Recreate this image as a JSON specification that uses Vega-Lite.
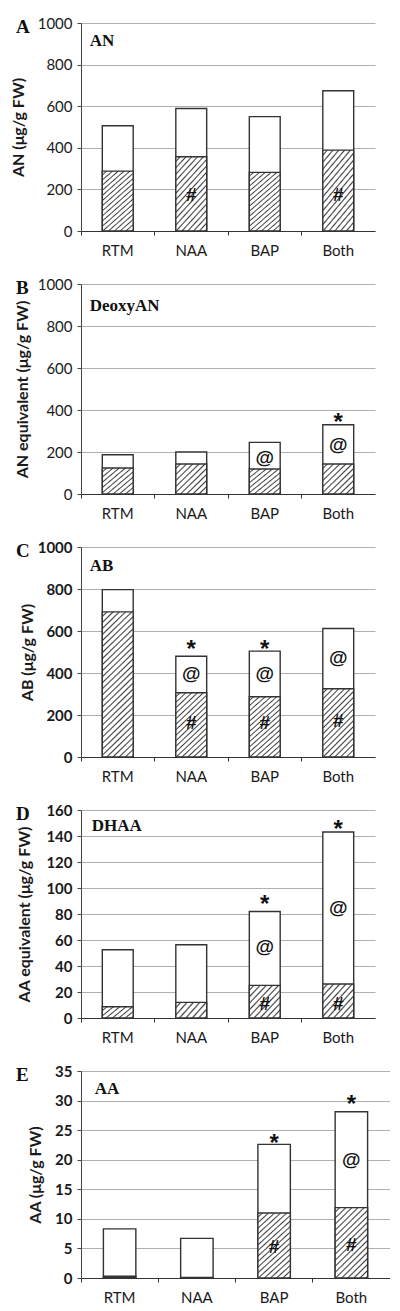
{
  "$schema": "https://vega.github.io/schema/vega-lite/v6.json",
  "padding": {"left": 10, "top": 16, "right": 0, "bottom": 0},
  "autosize": {"type": "pad"},
  "spacing": 53,
  "bounds": "flush",
  "config": {
    "view": {"stroke": null},
    "font": "Lato",
    "axisX": {"bandPosition": 0, "domainColor": "#333333", "tickColor": "#333333", "tickSize": 4, "labelFontSize": 15, "labelColor": "#1a1a1a", "labelFont": "Lato", "labelPadding": 8, "labelAngle": 0, "grid": false, "title": null},
    "axisY": {"grid": true, "gridColor": "#b0b0b0", "gridWidth": 1, "domainColor": "#444444", "tickColor": "#444444", "tickSize": 4, "labelFontSize": 15, "labelColor": "#1a1a1a", "labelFont": "Lato", "labelPadding": 5, "labelOverlap": false, "format": "d", "titleFont": "Lato", "titleFontSize": 16, "titleFontWeight": "bold", "titleColor": "#1a1a1a"},
    "title": {"font": "Liberation Serif", "fontSize": 19, "fontWeight": "bold", "anchor": "start", "frame": "group", "dx": -65, "baseline": "alphabetic", "offset": 0, "dy": 25, "color": "#111111"}
  },
  "datasets": {
    "bars": [
      {"panel": "A", "cat": "RTM", "lower": 288, "total": 506},
      {"panel": "A", "cat": "NAA", "lower": 357, "total": 589},
      {"panel": "A", "cat": "BAP", "lower": 282, "total": 550},
      {"panel": "A", "cat": "Both", "lower": 389, "total": 674},
      {"panel": "B", "cat": "RTM", "lower": 124, "total": 187},
      {"panel": "B", "cat": "NAA", "lower": 143, "total": 200},
      {"panel": "B", "cat": "BAP", "lower": 119, "total": 246},
      {"panel": "B", "cat": "Both", "lower": 143, "total": 330},
      {"panel": "C", "cat": "RTM", "lower": 691, "total": 797},
      {"panel": "C", "cat": "NAA", "lower": 306, "total": 480},
      {"panel": "C", "cat": "BAP", "lower": 287, "total": 504},
      {"panel": "C", "cat": "Both", "lower": 325, "total": 612},
      {"panel": "D", "cat": "RTM", "lower": 8.7, "total": 52.5},
      {"panel": "D", "cat": "NAA", "lower": 12, "total": 56.3},
      {"panel": "D", "cat": "BAP", "lower": 25.1, "total": 81.9},
      {"panel": "D", "cat": "Both", "lower": 26.1, "total": 143.1},
      {"panel": "E", "cat": "RTM", "lower": 0.3, "total": 8.3},
      {"panel": "E", "cat": "NAA", "lower": 0.1, "total": 6.7},
      {"panel": "E", "cat": "BAP", "lower": 11.0, "total": 22.6},
      {"panel": "E", "cat": "Both", "lower": 11.9, "total": 28.1}
    ],
    "syms": [
      {"panel": "A", "cat": "NAA", "sym": "#", "y": 173},
      {"panel": "A", "cat": "Both", "sym": "#", "y": 173},
      {"panel": "B", "cat": "BAP", "sym": "@", "y": 171},
      {"panel": "B", "cat": "Both", "sym": "@", "y": 235},
      {"panel": "C", "cat": "NAA", "sym": "@", "y": 393},
      {"panel": "C", "cat": "BAP", "sym": "@", "y": 393},
      {"panel": "C", "cat": "Both", "sym": "@", "y": 472},
      {"panel": "C", "cat": "NAA", "sym": "#", "y": 163},
      {"panel": "C", "cat": "BAP", "sym": "#", "y": 163},
      {"panel": "C", "cat": "Both", "sym": "#", "y": 171},
      {"panel": "D", "cat": "BAP", "sym": "@", "y": 54.8},
      {"panel": "D", "cat": "BAP", "sym": "#", "y": 10.8},
      {"panel": "D", "cat": "Both", "sym": "@", "y": 85},
      {"panel": "D", "cat": "Both", "sym": "#", "y": 10.8},
      {"panel": "E", "cat": "BAP", "sym": "#", "y": 5.2},
      {"panel": "E", "cat": "Both", "sym": "@", "y": 19.9},
      {"panel": "E", "cat": "Both", "sym": "#", "y": 5.6}
    ],
    "stars": [
      {"panel": "B", "cat": "Both", "sym": "*", "y": 369},
      {"panel": "C", "cat": "NAA", "sym": "*", "y": 536},
      {"panel": "C", "cat": "BAP", "sym": "*", "y": 536},
      {"panel": "D", "cat": "BAP", "sym": "*", "y": 91.4},
      {"panel": "D", "cat": "Both", "sym": "*", "y": 149.5},
      {"panel": "E", "cat": "BAP", "sym": "*", "y": 23.7},
      {"panel": "E", "cat": "Both", "sym": "*", "y": 30.2}
    ],
    "labels": [
      {"panel": "A", "cat": "RTM", "label": "AN", "y": 889},
      {"panel": "B", "cat": "RTM", "label": "DeoxyAN", "y": 871},
      {"panel": "C", "cat": "RTM", "label": "AB", "y": 886},
      {"panel": "D", "cat": "RTM", "label": "DHAA", "y": 143.8},
      {"panel": "E", "cat": "RTM", "label": "AA", "y": 31.1}
    ]
  },
  "vconcat": [
    {
      "width": 294, "height": 208,
      "title": {"text": "A"},
      "layer": [
        {"data": {"name": "bars"}, "transform": [{"filter": "datum.panel==='A'"}],
         "mark": {"type": "bar", "fill": "#ffffff", "stroke": "#333333", "strokeWidth": 1.4, "width": {"band": 0.42}},
         "encoding": {
           "x": {"field": "cat", "type": "nominal", "sort": ["RTM", "NAA", "BAP", "Both"], "scale": {"paddingInner": 0, "paddingOuter": 0}},
           "y": {"field": "total", "type": "quantitative", "scale": {"domain": [0, 1000], "nice": false}, "axis": {"title": "AN (μg/g FW)", "values": [0, 200, 400, 600, 800, 1000], "tickCount": 6, "labelOverlap": false, "titlePadding": 11}}}},
        {"data": {"name": "bars"}, "transform": [{"filter": "datum.panel==='A'"}],
         "mark": {"type": "bar", "stroke": "#333333", "strokeWidth": 1.4, "width": {"band": 0.42},
           "fill": {"gradient": "linear", "x1": 0, "y1": 0, "x2": 0.548, "y2": 1.205, "stops": [
            {"offset": 0, "color": "#ffffff"},
            {"offset": 0.0294, "color": "#ffffff"}, {"offset": 0.0441, "color": "#404040"}, {"offset": 0.0588, "color": "#ffffff"},
            {"offset": 0.0882, "color": "#ffffff"}, {"offset": 0.1029, "color": "#404040"}, {"offset": 0.1176, "color": "#ffffff"},
            {"offset": 0.1471, "color": "#ffffff"}, {"offset": 0.1618, "color": "#404040"}, {"offset": 0.1765, "color": "#ffffff"},
            {"offset": 0.2059, "color": "#ffffff"}, {"offset": 0.2206, "color": "#404040"}, {"offset": 0.2353, "color": "#ffffff"},
            {"offset": 0.2647, "color": "#ffffff"}, {"offset": 0.2794, "color": "#404040"}, {"offset": 0.2941, "color": "#ffffff"},
            {"offset": 0.3235, "color": "#ffffff"}, {"offset": 0.3382, "color": "#404040"}, {"offset": 0.3529, "color": "#ffffff"},
            {"offset": 0.3824, "color": "#ffffff"}, {"offset": 0.3971, "color": "#404040"}, {"offset": 0.4118, "color": "#ffffff"},
            {"offset": 0.4412, "color": "#ffffff"}, {"offset": 0.4559, "color": "#404040"}, {"offset": 0.4706, "color": "#ffffff"},
            {"offset": 0.5, "color": "#ffffff"}, {"offset": 0.5147, "color": "#404040"}, {"offset": 0.5294, "color": "#ffffff"},
            {"offset": 0.5588, "color": "#ffffff"}, {"offset": 0.5735, "color": "#404040"}, {"offset": 0.5882, "color": "#ffffff"},
            {"offset": 0.6176, "color": "#ffffff"}, {"offset": 0.6324, "color": "#404040"}, {"offset": 0.6471, "color": "#ffffff"},
            {"offset": 0.6765, "color": "#ffffff"}, {"offset": 0.6912, "color": "#404040"}, {"offset": 0.7059, "color": "#ffffff"},
            {"offset": 0.7353, "color": "#ffffff"}, {"offset": 0.75, "color": "#404040"}, {"offset": 0.7647, "color": "#ffffff"},
            {"offset": 0.7941, "color": "#ffffff"}, {"offset": 0.8088, "color": "#404040"}, {"offset": 0.8235, "color": "#ffffff"},
            {"offset": 0.8529, "color": "#ffffff"}, {"offset": 0.8676, "color": "#404040"}, {"offset": 0.8824, "color": "#ffffff"},
            {"offset": 0.9118, "color": "#ffffff"}, {"offset": 0.9265, "color": "#404040"}, {"offset": 0.9412, "color": "#ffffff"},
            {"offset": 0.9706, "color": "#ffffff"}, {"offset": 0.9853, "color": "#404040"}, {"offset": 1, "color": "#ffffff"}]}},
         "encoding": {"x": {"field": "cat", "type": "nominal", "sort": ["RTM", "NAA", "BAP", "Both"]}, "y": {"field": "lower", "type": "quantitative", "title": "AN (μg/g FW)"}}},
        {"data": {"name": "syms"}, "transform": [{"filter": "datum.panel==='A'"}],
         "mark": {"type": "text", "font": "Liberation Sans", "fontWeight": "bold", "fontSize": 19, "baseline": "middle", "color": "#111111"},
         "encoding": {"x": {"field": "cat", "type": "nominal", "sort": ["RTM", "NAA", "BAP", "Both"]}, "y": {"field": "y", "type": "quantitative", "title": "AN (μg/g FW)"}, "text": {"field": "sym"}}},
        {"data": {"name": "labels"}, "transform": [{"filter": "datum.panel==='A'"}],
         "mark": {"type": "text", "font": "Liberation Serif", "fontWeight": "bold", "fontSize": 17, "align": "left", "baseline": "alphabetic", "dx": -28, "color": "#111111"},
         "encoding": {"x": {"field": "cat", "type": "nominal", "sort": ["RTM", "NAA", "BAP", "Both"]}, "y": {"field": "y", "type": "quantitative", "title": "AN (μg/g FW)"}, "text": {"field": "label"}}}
      ]
    },
    {
      "width": 294, "height": 210,
      "title": {"text": "B"},
      "layer": [
        {"data": {"name": "bars"}, "transform": [{"filter": "datum.panel==='B'"}],
         "mark": {"type": "bar", "fill": "#ffffff", "stroke": "#333333", "strokeWidth": 1.4, "width": {"band": 0.42}},
         "encoding": {
           "x": {"field": "cat", "type": "nominal", "sort": ["RTM", "NAA", "BAP", "Both"], "scale": {"paddingInner": 0, "paddingOuter": 0}},
           "y": {"field": "total", "type": "quantitative", "scale": {"domain": [0, 1000], "nice": false}, "axis": {"title": "AN equivalent  (μg/g FW)", "values": [0, 200, 400, 600, 800, 1000], "tickCount": 6, "labelOverlap": false, "titlePadding": 7}}}},
        {"data": {"name": "bars"}, "transform": [{"filter": "datum.panel==='B'"}],
         "mark": {"type": "bar", "stroke": "#333333", "strokeWidth": 1.4, "width": {"band": 0.42},
           "fill": {"gradient": "linear", "x1": 0, "y1": 0, "x2": 1, "y2": 1, "stops": [
            {"offset": 0, "color": "#ffffff"},
            {"offset": 0.05, "color": "#ffffff"}, {"offset": 0.075, "color": "#404040"}, {"offset": 0.1, "color": "#ffffff"},
            {"offset": 0.15, "color": "#ffffff"}, {"offset": 0.175, "color": "#404040"}, {"offset": 0.2, "color": "#ffffff"},
            {"offset": 0.25, "color": "#ffffff"}, {"offset": 0.275, "color": "#404040"}, {"offset": 0.3, "color": "#ffffff"},
            {"offset": 0.35, "color": "#ffffff"}, {"offset": 0.375, "color": "#404040"}, {"offset": 0.4, "color": "#ffffff"},
            {"offset": 0.45, "color": "#ffffff"}, {"offset": 0.475, "color": "#404040"}, {"offset": 0.5, "color": "#ffffff"},
            {"offset": 0.55, "color": "#ffffff"}, {"offset": 0.575, "color": "#404040"}, {"offset": 0.6, "color": "#ffffff"},
            {"offset": 0.65, "color": "#ffffff"}, {"offset": 0.675, "color": "#404040"}, {"offset": 0.7, "color": "#ffffff"},
            {"offset": 0.75, "color": "#ffffff"}, {"offset": 0.775, "color": "#404040"}, {"offset": 0.8, "color": "#ffffff"},
            {"offset": 0.85, "color": "#ffffff"}, {"offset": 0.875, "color": "#404040"}, {"offset": 0.9, "color": "#ffffff"},
            {"offset": 0.95, "color": "#ffffff"}, {"offset": 0.975, "color": "#404040"}, {"offset": 1, "color": "#ffffff"}]}},
         "encoding": {"x": {"field": "cat", "type": "nominal", "sort": ["RTM", "NAA", "BAP", "Both"]}, "y": {"field": "lower", "type": "quantitative", "title": "AN equivalent  (μg/g FW)"}}},
        {"data": {"name": "syms"}, "transform": [{"filter": "datum.panel==='B'"}],
         "mark": {"type": "text", "font": "Liberation Sans", "fontWeight": "bold", "fontSize": 19, "baseline": "middle", "color": "#111111"},
         "encoding": {"x": {"field": "cat", "type": "nominal", "sort": ["RTM", "NAA", "BAP", "Both"]}, "y": {"field": "y", "type": "quantitative", "title": "AN equivalent  (μg/g FW)"}, "text": {"field": "sym"}}},
        {"data": {"name": "stars"}, "transform": [{"filter": "datum.panel==='B'"}],
         "mark": {"type": "text", "font": "Liberation Sans", "fontWeight": "bold", "fontSize": 24, "baseline": "middle", "dy": 6, "color": "#111111"},
         "encoding": {"x": {"field": "cat", "type": "nominal", "sort": ["RTM", "NAA", "BAP", "Both"]}, "y": {"field": "y", "type": "quantitative", "title": "AN equivalent  (μg/g FW)"}, "text": {"field": "sym"}}},
        {"data": {"name": "labels"}, "transform": [{"filter": "datum.panel==='B'"}],
         "mark": {"type": "text", "font": "Liberation Serif", "fontWeight": "bold", "fontSize": 17, "align": "left", "baseline": "alphabetic", "dx": -28, "color": "#111111"},
         "encoding": {"x": {"field": "cat", "type": "nominal", "sort": ["RTM", "NAA", "BAP", "Both"]}, "y": {"field": "y", "type": "quantitative", "title": "AN equivalent  (μg/g FW)"}, "text": {"field": "label"}}}
      ]
    },
    {
      "width": 294, "height": 210,
      "title": {"text": "C"},
      "layer": [
        {"data": {"name": "bars"}, "transform": [{"filter": "datum.panel==='C'"}],
         "mark": {"type": "bar", "fill": "#ffffff", "stroke": "#333333", "strokeWidth": 1.4, "width": {"band": 0.42}},
         "encoding": {
           "x": {"field": "cat", "type": "nominal", "sort": ["RTM", "NAA", "BAP", "Both"], "scale": {"paddingInner": 0, "paddingOuter": 0}},
           "y": {"field": "total", "type": "quantitative", "scale": {"domain": [0, 1000], "nice": false}, "axis": {"title": "AB (μg/g FW)", "values": [0, 200, 400, 600, 800, 1000], "tickCount": 6, "labelOverlap": false, "titlePadding": 2, "labelFontWeight": "bold"}}}},
        {"data": {"name": "bars"}, "transform": [{"filter": "datum.panel==='C' && datum.cat==='RTM'"}],
         "mark": {"type": "bar", "stroke": "#333333", "strokeWidth": 1.4, "width": {"band": 0.42},
           "fill": {"gradient": "linear", "x1": 0, "y1": 0, "x2": 0.239, "y2": 1.157, "stops": [
            {"offset": 0, "color": "#ffffff"},
            {"offset": 0.0172, "color": "#ffffff"}, {"offset": 0.0259, "color": "#404040"}, {"offset": 0.0345, "color": "#ffffff"},
            {"offset": 0.0517, "color": "#ffffff"}, {"offset": 0.0603, "color": "#404040"}, {"offset": 0.0690, "color": "#ffffff"},
            {"offset": 0.0862, "color": "#ffffff"}, {"offset": 0.0948, "color": "#404040"}, {"offset": 0.1034, "color": "#ffffff"},
            {"offset": 0.1207, "color": "#ffffff"}, {"offset": 0.1293, "color": "#404040"}, {"offset": 0.1379, "color": "#ffffff"},
            {"offset": 0.1552, "color": "#ffffff"}, {"offset": 0.1638, "color": "#404040"}, {"offset": 0.1724, "color": "#ffffff"},
            {"offset": 0.1897, "color": "#ffffff"}, {"offset": 0.1983, "color": "#404040"}, {"offset": 0.2069, "color": "#ffffff"},
            {"offset": 0.2241, "color": "#ffffff"}, {"offset": 0.2328, "color": "#404040"}, {"offset": 0.2414, "color": "#ffffff"},
            {"offset": 0.2586, "color": "#ffffff"}, {"offset": 0.2672, "color": "#404040"}, {"offset": 0.2759, "color": "#ffffff"},
            {"offset": 0.2931, "color": "#ffffff"}, {"offset": 0.3017, "color": "#404040"}, {"offset": 0.3103, "color": "#ffffff"},
            {"offset": 0.3276, "color": "#ffffff"}, {"offset": 0.3362, "color": "#404040"}, {"offset": 0.3448, "color": "#ffffff"},
            {"offset": 0.3621, "color": "#ffffff"}, {"offset": 0.3707, "color": "#404040"}, {"offset": 0.3793, "color": "#ffffff"},
            {"offset": 0.3966, "color": "#ffffff"}, {"offset": 0.4052, "color": "#404040"}, {"offset": 0.4138, "color": "#ffffff"},
            {"offset": 0.4310, "color": "#ffffff"}, {"offset": 0.4397, "color": "#404040"}, {"offset": 0.4483, "color": "#ffffff"},
            {"offset": 0.4655, "color": "#ffffff"}, {"offset": 0.4741, "color": "#404040"}, {"offset": 0.4828, "color": "#ffffff"},
            {"offset": 0.5, "color": "#ffffff"}, {"offset": 0.5086, "color": "#404040"}, {"offset": 0.5172, "color": "#ffffff"},
            {"offset": 0.5345, "color": "#ffffff"}, {"offset": 0.5431, "color": "#404040"}, {"offset": 0.5517, "color": "#ffffff"},
            {"offset": 0.5690, "color": "#ffffff"}, {"offset": 0.5776, "color": "#404040"}, {"offset": 0.5862, "color": "#ffffff"},
            {"offset": 0.6034, "color": "#ffffff"}, {"offset": 0.6121, "color": "#404040"}, {"offset": 0.6207, "color": "#ffffff"},
            {"offset": 0.6379, "color": "#ffffff"}, {"offset": 0.6466, "color": "#404040"}, {"offset": 0.6552, "color": "#ffffff"},
            {"offset": 0.6724, "color": "#ffffff"}, {"offset": 0.6810, "color": "#404040"}, {"offset": 0.6897, "color": "#ffffff"},
            {"offset": 0.7069, "color": "#ffffff"}, {"offset": 0.7155, "color": "#404040"}, {"offset": 0.7241, "color": "#ffffff"},
            {"offset": 0.7414, "color": "#ffffff"}, {"offset": 0.7500, "color": "#404040"}, {"offset": 0.7586, "color": "#ffffff"},
            {"offset": 0.7759, "color": "#ffffff"}, {"offset": 0.7845, "color": "#404040"}, {"offset": 0.7931, "color": "#ffffff"},
            {"offset": 0.8103, "color": "#ffffff"}, {"offset": 0.8190, "color": "#404040"}, {"offset": 0.8276, "color": "#ffffff"},
            {"offset": 0.8448, "color": "#ffffff"}, {"offset": 0.8534, "color": "#404040"}, {"offset": 0.8621, "color": "#ffffff"},
            {"offset": 0.8793, "color": "#ffffff"}, {"offset": 0.8879, "color": "#404040"}, {"offset": 0.8966, "color": "#ffffff"},
            {"offset": 0.9138, "color": "#ffffff"}, {"offset": 0.9224, "color": "#404040"}, {"offset": 0.9310, "color": "#ffffff"},
            {"offset": 0.9483, "color": "#ffffff"}, {"offset": 0.9569, "color": "#404040"}, {"offset": 0.9655, "color": "#ffffff"},
            {"offset": 0.9828, "color": "#ffffff"}, {"offset": 0.9914, "color": "#404040"}, {"offset": 1, "color": "#ffffff"}]}},
         "encoding": {"x": {"field": "cat", "type": "nominal", "sort": ["RTM", "NAA", "BAP", "Both"]}, "y": {"field": "lower", "type": "quantitative", "title": "AB (μg/g FW)"}}},
        {"data": {"name": "bars"}, "transform": [{"filter": "datum.panel==='C' && datum.cat!=='RTM'"}],
         "mark": {"type": "bar", "stroke": "#333333", "strokeWidth": 1.4, "width": {"band": 0.42},
           "fill": {"gradient": "linear", "x1": 0, "y1": 0, "x2": 0.548, "y2": 1.205, "stops": [
            {"offset": 0, "color": "#ffffff"},
            {"offset": 0.0294, "color": "#ffffff"}, {"offset": 0.0441, "color": "#404040"}, {"offset": 0.0588, "color": "#ffffff"},
            {"offset": 0.0882, "color": "#ffffff"}, {"offset": 0.1029, "color": "#404040"}, {"offset": 0.1176, "color": "#ffffff"},
            {"offset": 0.1471, "color": "#ffffff"}, {"offset": 0.1618, "color": "#404040"}, {"offset": 0.1765, "color": "#ffffff"},
            {"offset": 0.2059, "color": "#ffffff"}, {"offset": 0.2206, "color": "#404040"}, {"offset": 0.2353, "color": "#ffffff"},
            {"offset": 0.2647, "color": "#ffffff"}, {"offset": 0.2794, "color": "#404040"}, {"offset": 0.2941, "color": "#ffffff"},
            {"offset": 0.3235, "color": "#ffffff"}, {"offset": 0.3382, "color": "#404040"}, {"offset": 0.3529, "color": "#ffffff"},
            {"offset": 0.3824, "color": "#ffffff"}, {"offset": 0.3971, "color": "#404040"}, {"offset": 0.4118, "color": "#ffffff"},
            {"offset": 0.4412, "color": "#ffffff"}, {"offset": 0.4559, "color": "#404040"}, {"offset": 0.4706, "color": "#ffffff"},
            {"offset": 0.5, "color": "#ffffff"}, {"offset": 0.5147, "color": "#404040"}, {"offset": 0.5294, "color": "#ffffff"},
            {"offset": 0.5588, "color": "#ffffff"}, {"offset": 0.5735, "color": "#404040"}, {"offset": 0.5882, "color": "#ffffff"},
            {"offset": 0.6176, "color": "#ffffff"}, {"offset": 0.6324, "color": "#404040"}, {"offset": 0.6471, "color": "#ffffff"},
            {"offset": 0.6765, "color": "#ffffff"}, {"offset": 0.6912, "color": "#404040"}, {"offset": 0.7059, "color": "#ffffff"},
            {"offset": 0.7353, "color": "#ffffff"}, {"offset": 0.75, "color": "#404040"}, {"offset": 0.7647, "color": "#ffffff"},
            {"offset": 0.7941, "color": "#ffffff"}, {"offset": 0.8088, "color": "#404040"}, {"offset": 0.8235, "color": "#ffffff"},
            {"offset": 0.8529, "color": "#ffffff"}, {"offset": 0.8676, "color": "#404040"}, {"offset": 0.8824, "color": "#ffffff"},
            {"offset": 0.9118, "color": "#ffffff"}, {"offset": 0.9265, "color": "#404040"}, {"offset": 0.9412, "color": "#ffffff"},
            {"offset": 0.9706, "color": "#ffffff"}, {"offset": 0.9853, "color": "#404040"}, {"offset": 1, "color": "#ffffff"}]}},
         "encoding": {"x": {"field": "cat", "type": "nominal", "sort": ["RTM", "NAA", "BAP", "Both"]}, "y": {"field": "lower", "type": "quantitative", "title": "AB (μg/g FW)"}}},
        {"data": {"name": "syms"}, "transform": [{"filter": "datum.panel==='C'"}],
         "mark": {"type": "text", "font": "Liberation Sans", "fontWeight": "bold", "fontSize": 19, "baseline": "middle", "color": "#111111"},
         "encoding": {"x": {"field": "cat", "type": "nominal", "sort": ["RTM", "NAA", "BAP", "Both"]}, "y": {"field": "y", "type": "quantitative", "title": "AB (μg/g FW)"}, "text": {"field": "sym"}}},
        {"data": {"name": "stars"}, "transform": [{"filter": "datum.panel==='C'"}],
         "mark": {"type": "text", "font": "Liberation Sans", "fontWeight": "bold", "fontSize": 24, "baseline": "middle", "dy": 6, "color": "#111111"},
         "encoding": {"x": {"field": "cat", "type": "nominal", "sort": ["RTM", "NAA", "BAP", "Both"]}, "y": {"field": "y", "type": "quantitative", "title": "AB (μg/g FW)"}, "text": {"field": "sym"}}},
        {"data": {"name": "labels"}, "transform": [{"filter": "datum.panel==='C'"}],
         "mark": {"type": "text", "font": "Liberation Serif", "fontWeight": "bold", "fontSize": 17, "align": "left", "baseline": "alphabetic", "dx": -28, "color": "#111111"},
         "encoding": {"x": {"field": "cat", "type": "nominal", "sort": ["RTM", "NAA", "BAP", "Both"]}, "y": {"field": "y", "type": "quantitative", "title": "AB (μg/g FW)"}, "text": {"field": "label"}}}
      ]
    },
    {
      "width": 294, "height": 208,
      "title": {"text": "D"},
      "layer": [
        {"data": {"name": "bars"}, "transform": [{"filter": "datum.panel==='D'"}],
         "mark": {"type": "bar", "fill": "#ffffff", "stroke": "#333333", "strokeWidth": 1.4, "width": {"band": 0.42}},
         "encoding": {
           "x": {"field": "cat", "type": "nominal", "sort": ["RTM", "NAA", "BAP", "Both"], "scale": {"paddingInner": 0, "paddingOuter": 0}},
           "y": {"field": "total", "type": "quantitative", "scale": {"domain": [0, 160], "nice": false}, "axis": {"title": "AA equivalent  (μg/g FW)", "values": [0, 20, 40, 60, 80, 100, 120, 140, 160], "tickCount": 9, "labelOverlap": false, "titlePadding": 13, "labelFontWeight": "bold"}}}},
        {"data": {"name": "bars"}, "transform": [{"filter": "datum.panel==='D' && (datum.cat==='RTM' || datum.cat==='NAA')"}],
         "mark": {"type": "bar", "stroke": "#333333", "strokeWidth": 1.4, "width": {"band": 0.42},
           "fill": {"gradient": "linear", "x1": 0, "y1": 0, "x2": 1.206, "y2": 0.543, "stops": [
            {"offset": 0, "color": "#ffffff"},
            {"offset": 0.0714, "color": "#ffffff"}, {"offset": 0.1071, "color": "#404040"}, {"offset": 0.1429, "color": "#ffffff"},
            {"offset": 0.2143, "color": "#ffffff"}, {"offset": 0.25, "color": "#404040"}, {"offset": 0.2857, "color": "#ffffff"},
            {"offset": 0.3571, "color": "#ffffff"}, {"offset": 0.3929, "color": "#404040"}, {"offset": 0.4286, "color": "#ffffff"},
            {"offset": 0.5, "color": "#ffffff"}, {"offset": 0.5357, "color": "#404040"}, {"offset": 0.5714, "color": "#ffffff"},
            {"offset": 0.6429, "color": "#ffffff"}, {"offset": 0.6786, "color": "#404040"}, {"offset": 0.7143, "color": "#ffffff"},
            {"offset": 0.7857, "color": "#ffffff"}, {"offset": 0.8214, "color": "#404040"}, {"offset": 0.8571, "color": "#ffffff"},
            {"offset": 0.9286, "color": "#ffffff"}, {"offset": 0.9643, "color": "#404040"}, {"offset": 1, "color": "#ffffff"}]}},
         "encoding": {"x": {"field": "cat", "type": "nominal", "sort": ["RTM", "NAA", "BAP", "Both"]}, "y": {"field": "lower", "type": "quantitative", "title": "AA equivalent  (μg/g FW)"}}},
        {"data": {"name": "bars"}, "transform": [{"filter": "datum.panel==='D' && (datum.cat==='BAP' || datum.cat==='Both')"}],
         "mark": {"type": "bar", "stroke": "#333333", "strokeWidth": 1.4, "width": {"band": 0.42},
           "fill": {"gradient": "linear", "x1": 0, "y1": 0, "x2": 1, "y2": 1, "stops": [
            {"offset": 0, "color": "#ffffff"},
            {"offset": 0.05, "color": "#ffffff"}, {"offset": 0.075, "color": "#404040"}, {"offset": 0.1, "color": "#ffffff"},
            {"offset": 0.15, "color": "#ffffff"}, {"offset": 0.175, "color": "#404040"}, {"offset": 0.2, "color": "#ffffff"},
            {"offset": 0.25, "color": "#ffffff"}, {"offset": 0.275, "color": "#404040"}, {"offset": 0.3, "color": "#ffffff"},
            {"offset": 0.35, "color": "#ffffff"}, {"offset": 0.375, "color": "#404040"}, {"offset": 0.4, "color": "#ffffff"},
            {"offset": 0.45, "color": "#ffffff"}, {"offset": 0.475, "color": "#404040"}, {"offset": 0.5, "color": "#ffffff"},
            {"offset": 0.55, "color": "#ffffff"}, {"offset": 0.575, "color": "#404040"}, {"offset": 0.6, "color": "#ffffff"},
            {"offset": 0.65, "color": "#ffffff"}, {"offset": 0.675, "color": "#404040"}, {"offset": 0.7, "color": "#ffffff"},
            {"offset": 0.75, "color": "#ffffff"}, {"offset": 0.775, "color": "#404040"}, {"offset": 0.8, "color": "#ffffff"},
            {"offset": 0.85, "color": "#ffffff"}, {"offset": 0.875, "color": "#404040"}, {"offset": 0.9, "color": "#ffffff"},
            {"offset": 0.95, "color": "#ffffff"}, {"offset": 0.975, "color": "#404040"}, {"offset": 1, "color": "#ffffff"}]}},
         "encoding": {"x": {"field": "cat", "type": "nominal", "sort": ["RTM", "NAA", "BAP", "Both"]}, "y": {"field": "lower", "type": "quantitative", "title": "AA equivalent  (μg/g FW)"}}},
        {"data": {"name": "syms"}, "transform": [{"filter": "datum.panel==='D'"}],
         "mark": {"type": "text", "font": "Liberation Sans", "fontWeight": "bold", "fontSize": 19, "baseline": "middle", "color": "#111111"},
         "encoding": {"x": {"field": "cat", "type": "nominal", "sort": ["RTM", "NAA", "BAP", "Both"]}, "y": {"field": "y", "type": "quantitative", "title": "AA equivalent  (μg/g FW)"}, "text": {"field": "sym"}}},
        {"data": {"name": "stars"}, "transform": [{"filter": "datum.panel==='D'"}],
         "mark": {"type": "text", "font": "Liberation Sans", "fontWeight": "bold", "fontSize": 24, "baseline": "middle", "dy": 6, "color": "#111111"},
         "encoding": {"x": {"field": "cat", "type": "nominal", "sort": ["RTM", "NAA", "BAP", "Both"]}, "y": {"field": "y", "type": "quantitative", "title": "AA equivalent  (μg/g FW)"}, "text": {"field": "sym"}}},
        {"data": {"name": "labels"}, "transform": [{"filter": "datum.panel==='D'"}],
         "mark": {"type": "text", "font": "Liberation Serif", "fontWeight": "bold", "fontSize": 17, "align": "left", "baseline": "alphabetic", "dx": -26, "color": "#111111"},
         "encoding": {"x": {"field": "cat", "type": "nominal", "sort": ["RTM", "NAA", "BAP", "Both"]}, "y": {"field": "y", "type": "quantitative", "title": "AA equivalent  (μg/g FW)"}, "text": {"field": "label"}}}
      ]
    },
    {
      "width": 309, "height": 207,
      "title": {"text": "E"},
      "layer": [
        {"data": {"name": "bars"}, "transform": [{"filter": "datum.panel==='E'"}],
         "mark": {"type": "bar", "fill": "#ffffff", "stroke": "#333333", "strokeWidth": 1.4, "width": {"band": 0.42}},
         "encoding": {
           "x": {"field": "cat", "type": "nominal", "sort": ["RTM", "NAA", "BAP", "Both"], "scale": {"paddingInner": 0, "paddingOuter": 0}},
           "y": {"field": "total", "type": "quantitative", "scale": {"domain": [0, 35], "nice": false}, "axis": {"title": "AA (μg/g FW)", "values": [0, 5, 10, 15, 20, 25, 30, 35], "tickCount": 8, "labelOverlap": false, "titlePadding": 11, "labelFontWeight": "bold"}}}},
        {"data": {"name": "bars"}, "transform": [{"filter": "datum.panel==='E' && (datum.cat==='RTM' || datum.cat==='NAA')"}],
         "mark": {"type": "bar", "fill": "#404040", "stroke": "#333333", "strokeWidth": 1.4, "width": {"band": 0.42}},
         "encoding": {"x": {"field": "cat", "type": "nominal", "sort": ["RTM", "NAA", "BAP", "Both"]}, "y": {"field": "lower", "type": "quantitative", "title": "AA (μg/g FW)"}}},
        {"data": {"name": "bars"}, "transform": [{"filter": "datum.panel==='E' && (datum.cat==='BAP' || datum.cat==='Both')"}],
         "mark": {"type": "bar", "stroke": "#333333", "strokeWidth": 1.4, "width": {"band": 0.42},
           "fill": {"gradient": "linear", "x1": 0, "y1": 0, "x2": 0.548, "y2": 1.205, "stops": [
            {"offset": 0, "color": "#ffffff"},
            {"offset": 0.0294, "color": "#ffffff"}, {"offset": 0.0441, "color": "#404040"}, {"offset": 0.0588, "color": "#ffffff"},
            {"offset": 0.0882, "color": "#ffffff"}, {"offset": 0.1029, "color": "#404040"}, {"offset": 0.1176, "color": "#ffffff"},
            {"offset": 0.1471, "color": "#ffffff"}, {"offset": 0.1618, "color": "#404040"}, {"offset": 0.1765, "color": "#ffffff"},
            {"offset": 0.2059, "color": "#ffffff"}, {"offset": 0.2206, "color": "#404040"}, {"offset": 0.2353, "color": "#ffffff"},
            {"offset": 0.2647, "color": "#ffffff"}, {"offset": 0.2794, "color": "#404040"}, {"offset": 0.2941, "color": "#ffffff"},
            {"offset": 0.3235, "color": "#ffffff"}, {"offset": 0.3382, "color": "#404040"}, {"offset": 0.3529, "color": "#ffffff"},
            {"offset": 0.3824, "color": "#ffffff"}, {"offset": 0.3971, "color": "#404040"}, {"offset": 0.4118, "color": "#ffffff"},
            {"offset": 0.4412, "color": "#ffffff"}, {"offset": 0.4559, "color": "#404040"}, {"offset": 0.4706, "color": "#ffffff"},
            {"offset": 0.5, "color": "#ffffff"}, {"offset": 0.5147, "color": "#404040"}, {"offset": 0.5294, "color": "#ffffff"},
            {"offset": 0.5588, "color": "#ffffff"}, {"offset": 0.5735, "color": "#404040"}, {"offset": 0.5882, "color": "#ffffff"},
            {"offset": 0.6176, "color": "#ffffff"}, {"offset": 0.6324, "color": "#404040"}, {"offset": 0.6471, "color": "#ffffff"},
            {"offset": 0.6765, "color": "#ffffff"}, {"offset": 0.6912, "color": "#404040"}, {"offset": 0.7059, "color": "#ffffff"},
            {"offset": 0.7353, "color": "#ffffff"}, {"offset": 0.75, "color": "#404040"}, {"offset": 0.7647, "color": "#ffffff"},
            {"offset": 0.7941, "color": "#ffffff"}, {"offset": 0.8088, "color": "#404040"}, {"offset": 0.8235, "color": "#ffffff"},
            {"offset": 0.8529, "color": "#ffffff"}, {"offset": 0.8676, "color": "#404040"}, {"offset": 0.8824, "color": "#ffffff"},
            {"offset": 0.9118, "color": "#ffffff"}, {"offset": 0.9265, "color": "#404040"}, {"offset": 0.9412, "color": "#ffffff"},
            {"offset": 0.9706, "color": "#ffffff"}, {"offset": 0.9853, "color": "#404040"}, {"offset": 1, "color": "#ffffff"}]}},
         "encoding": {"x": {"field": "cat", "type": "nominal", "sort": ["RTM", "NAA", "BAP", "Both"]}, "y": {"field": "lower", "type": "quantitative", "title": "AA (μg/g FW)"}}},
        {"data": {"name": "syms"}, "transform": [{"filter": "datum.panel==='E'"}],
         "mark": {"type": "text", "font": "Liberation Sans", "fontWeight": "bold", "fontSize": 19, "baseline": "middle", "color": "#111111"},
         "encoding": {"x": {"field": "cat", "type": "nominal", "sort": ["RTM", "NAA", "BAP", "Both"]}, "y": {"field": "y", "type": "quantitative", "title": "AA (μg/g FW)"}, "text": {"field": "sym"}}},
        {"data": {"name": "stars"}, "transform": [{"filter": "datum.panel==='E'"}],
         "mark": {"type": "text", "font": "Liberation Sans", "fontWeight": "bold", "fontSize": 24, "baseline": "middle", "dy": 6, "color": "#111111"},
         "encoding": {"x": {"field": "cat", "type": "nominal", "sort": ["RTM", "NAA", "BAP", "Both"]}, "y": {"field": "y", "type": "quantitative", "title": "AA (μg/g FW)"}, "text": {"field": "sym"}}},
        {"data": {"name": "labels"}, "transform": [{"filter": "datum.panel==='E'"}],
         "mark": {"type": "text", "font": "Liberation Serif", "fontWeight": "bold", "fontSize": 17, "align": "left", "baseline": "alphabetic", "dx": -25, "color": "#111111"},
         "encoding": {"x": {"field": "cat", "type": "nominal", "sort": ["RTM", "NAA", "BAP", "Both"]}, "y": {"field": "y", "type": "quantitative", "title": "AA (μg/g FW)"}, "text": {"field": "label"}}}
      ]
    }
  ]
}
